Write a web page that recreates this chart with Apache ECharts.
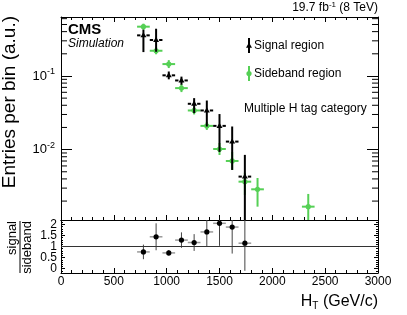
<!DOCTYPE html>
<html><head><meta charset="utf-8">
<script src="https://cdn.jsdelivr.net/npm/echarts@6/dist/echarts.min.js"></script>
<style>html,body{margin:0;padding:0;background:#fff}#c{width:407px;height:315px}</style>
</head><body><div id="c"></div>
<script>
// ---- data ----
const binHalf = 60;
const signalX = [780, 900, 1020, 1140, 1260, 1380, 1500, 1620, 1740];
const signal   = [0.356, 0.308, 0.102, 0.0869, 0.0419, 0.0340, 0.0210, 0.01285, 0.00430];
const signalLo = [0.211, 0.213, 0.090, 0.076, 0.0313, 0.0206, 0.0093, 0.0053, 0.0005];
const signalHi = [0.425, 0.438, 0.115, 0.098, 0.050, 0.0464, 0.0304, 0.0206, 0.00848];
const sidebandX = [780, 900, 1020, 1140, 1260, 1380, 1500, 1620, 1740, 1860, 2340];
const sideband   = [0.467, 0.220, 0.145, 0.0684, 0.0340, 0.0210, 0.0102, 0.00701, 0.00367, 0.00289, 0.00168];
const sidebandLo = [0.425, 0.197, 0.128, 0.0604, 0.030, 0.0185, 0.00845, 0.00529, 0.00242, 0.00168, 0.0009];
const sidebandHi = [0.513, 0.246, 0.164, 0.0775, 0.0385, 0.0238, 0.0123, 0.0093, 0.00486, 0.00412, 0.00250];
const ratioX = [780, 900, 1020, 1140, 1260, 1380, 1500, 1620, 1740];
const ratio    = [0.755, 1.44, 0.71, 1.29, 1.18, 1.66, 2.05, 1.88, 1.15];
const ratioErr = [0.33, 0.61, 0.13, 0.35, 0.38, 0.67, 1.02, 1.2, 1.25];
const ratioRef = 1;
const xRange = [0, 3000];
const yRange = [0.001107, 0.632];
const ratioRange = [-0.2, 2.2];

const FONT = 'Liberation Sans, Arial, Helvetica, sans-serif';
const GREEN = '#55d055';

function rows(xs, ys, lo, hi) { return xs.map((x, i) => [x, ys[i], lo[i], hi[i]]); }

function errItem(kind) {
  return function (params, api) {
    const x = api.value(0), y = api.value(1), lo = api.value(2), hi = api.value(3);
    const c = api.coord([x, y]);
    const l = api.coord([x - binHalf, y]);
    const r = api.coord([x + binHalf, y]);
    const pl = api.coord([x, lo]);
    const ph = api.coord([x, hi]);
    const ch = [];
    if (kind === 'sig') {
      ch.push({type: 'line', shape: {x1: c[0], y1: pl[1], x2: c[0], y2: ph[1]}, style: {stroke: '#000', lineWidth: 2}});
      ch.push({type: 'line', shape: {x1: l[0], y1: c[1], x2: c[0] - 3, y2: c[1]}, style: {stroke: '#000', lineWidth: 2}});
      ch.push({type: 'line', shape: {x1: c[0] + 3, y1: c[1], x2: r[0], y2: c[1]}, style: {stroke: '#000', lineWidth: 2}});
      ch.push({type: 'polygon', shape: {points: [[c[0], c[1] - 3.2], [c[0] - 3, c[1] + 2], [c[0] + 3, c[1] + 2]]}, style: {fill: '#000'}});
    } else if (kind === 'sb') {
      ch.push({type: 'line', shape: {x1: c[0], y1: pl[1], x2: c[0], y2: ph[1]}, style: {stroke: GREEN, lineWidth: 2}});
      ch.push({type: 'line', shape: {x1: l[0], y1: c[1], x2: r[0], y2: c[1]}, style: {stroke: GREEN, lineWidth: 2}});
      ch.push({type: 'circle', shape: {cx: c[0], cy: c[1], r: 2.6}, style: {fill: GREEN}});
    } else {
      ch.push({type: 'line', shape: {x1: c[0], y1: pl[1], x2: c[0], y2: ph[1]}, style: {stroke: '#444', lineWidth: 1}});
      ch.push({type: 'line', shape: {x1: l[0], y1: c[1], x2: r[0], y2: c[1]}, style: {stroke: '#999', lineWidth: 1.5}});
      ch.push({type: 'circle', shape: {cx: c[0], cy: c[1], r: 2.6}, style: {fill: '#000'}});
    }
    return {type: 'group', children: ch};
  };
}

// minor ticks for log axis (2..9 x 10^k)
const logMinor = [];
for (let k = -4; k <= 0; k++) for (let m = 2; m <= 9; m++) {
  const v = m * Math.pow(10, k);
  if (v > yRange[0] && v < yRange[1]) logMinor.push([xRange[0], v]);
}

const baseTick = {lineStyle: {color: '#000', width: 1}};
function xAx(grid, pos, labels, major, minor) {
  return {
    type: 'value', gridIndex: grid, position: pos, min: xRange[0], max: xRange[1], interval: 500,
    axisLine: {show: true, onZero: false, lineStyle: {color: '#000', width: 1}},
    axisTick: Object.assign({show: true, inside: true, length: major}, baseTick),
    minorTick: {show: true, splitNumber: 5, length: minor, lineStyle: {color: '#000', width: 1}},
    splitLine: {show: false},
    axisLabel: {show: labels, margin: 3, fontSize: 12, fontFamily: FONT, color: '#000', formatter: v => String(v)}
  };
}

const option = {
  animation: false,
  backgroundColor: '#fff',
  grid: [
    {left: 61, top: 17, width: 317, height: 203},
    {left: 61, top: 220, width: 317, height: 53}
  ],
  xAxis: [
    xAx(0, 'bottom', false, 5, 3),
    xAx(0, 'top', false, 5, 3),
    xAx(1, 'bottom', true, 5, 3),
    Object.assign(xAx(1, 'top', false, 0, 0), {axisTick: {show: false}, minorTick: {show: false}})
  ],
  yAxis: [
    {
      type: 'log', logBase: 10, gridIndex: 0, position: 'left', min: yRange[0], max: yRange[1],
      axisLine: {show: true, onZero: false, lineStyle: {color: '#000', width: 1}},
      axisTick: {show: true, inside: true, length: 11, lineStyle: {color: '#000'}},
      splitLine: {show: false},
      axisLabel: {
        show: true, margin: 6, showMinLabel: false, showMaxLabel: false, color: '#000', fontFamily: FONT,
        formatter: v => '{b|10}{s|' + Math.round(Math.log10(v)) + '}',
        rich: {b: {fontSize: 13, fontFamily: FONT, color: '#000'}, s: {fontSize: 9, fontFamily: FONT, color: '#000', verticalAlign: 'bottom', padding: [0, 0, 9, 0]}}
      }
    },
    {
      type: 'log', logBase: 10, gridIndex: 0, position: 'right', min: yRange[0], max: yRange[1],
      axisLine: {show: true, onZero: false, lineStyle: {color: '#000', width: 1}},
      axisTick: {show: true, inside: true, length: 11, lineStyle: {color: '#000'}},
      splitLine: {show: false}, axisLabel: {show: false}
    },
    {
      type: 'value', gridIndex: 1, position: 'left', min: ratioRange[0], max: ratioRange[1], splitNumber: 5,
      axisLine: {show: true, onZero: false, lineStyle: {color: '#000', width: 1}},
      axisTick: {show: true, inside: true, length: 4, lineStyle: {color: '#000'}},
      minorTick: {show: true, splitNumber: 5, length: 2, lineStyle: {color: '#000'}},
      splitLine: {show: false},
      axisLabel: {show: true, margin: 4, showMinLabel: false, showMaxLabel: false, fontSize: 12, fontFamily: FONT, color: '#000', formatter: v => String(v)}
    },
    {
      type: 'value', gridIndex: 1, position: 'right', min: ratioRange[0], max: ratioRange[1], splitNumber: 5,
      axisLine: {show: true, onZero: false, lineStyle: {color: '#000', width: 1}},
      axisTick: {show: true, inside: true, length: 4, lineStyle: {color: '#000'}},
      minorTick: {show: true, splitNumber: 5, length: 2, lineStyle: {color: '#000'}},
      splitLine: {show: false}, axisLabel: {show: false}
    }
  ],
  series: [
    {
      type: 'custom', xAxisIndex: 0, yAxisIndex: 0, silent: true, clip: false,
      data: logMinor,
      renderItem: function (params, api) {
        const v = api.value(1);
        const p = api.coord([xRange[0], v]);
        const q = api.coord([xRange[1], v]);
        return {type: 'group', children: [
          {type: 'line', shape: {x1: p[0], y1: p[1], x2: p[0] + 6, y2: p[1]}, style: {stroke: '#000', lineWidth: 1}},
          {type: 'line', shape: {x1: q[0], y1: q[1], x2: q[0] - 6, y2: q[1]}, style: {stroke: '#000', lineWidth: 1}}
        ]};
      }
    },
    {
      type: 'custom', name: 'Sideband region', xAxisIndex: 0, yAxisIndex: 0, clip: true, silent: true,
      dimensions: ['x', 'y', 'lo', 'hi'], encode: {x: 0, y: 1},
      data: rows(sidebandX, sideband, sidebandLo, sidebandHi), renderItem: errItem('sb')
    },
    {
      type: 'custom', name: 'Signal region', xAxisIndex: 0, yAxisIndex: 0, clip: true, silent: true,
      dimensions: ['x', 'y', 'lo', 'hi'], encode: {x: 0, y: 1},
      data: rows(signalX, signal, signalLo, signalHi), renderItem: errItem('sig')
    },
    {
      type: 'line', xAxisIndex: 2, yAxisIndex: 2, silent: true, showSymbol: false,
      data: [[xRange[0], ratioRef], [xRange[1], ratioRef]],
      lineStyle: {color: '#333', width: 1}
    },
    {
      type: 'custom', xAxisIndex: 2, yAxisIndex: 2, clip: true, silent: true,
      dimensions: ['x', 'y', 'lo', 'hi'], encode: {x: 0, y: 1},
      data: ratioX.map((x, i) => [x, ratio[i], ratio[i] - ratioErr[i], ratio[i] + ratioErr[i]]),
      renderItem: errItem('ratio')
    }
  ],
  graphic: [
    {type: 'text', x: 378, y: 15, style: {text: '{a|19.7 fb}{s|-1}{a| (8 TeV)}', align: 'right', verticalAlign: 'bottom',
      rich: {a: {fontSize: 12, fontFamily: FONT, fill: '#000'}, s: {fontSize: 8, fontFamily: FONT, fill: '#000', verticalAlign: 'bottom', padding: [0, 0, 6, 0]}}}},
    {type: 'text', x: 68, y: 30, style: {text: 'CMS', fontSize: 15, fontWeight: 'bold', fontFamily: FONT, fill: '#000', align: 'left', verticalAlign: 'middle'}},
    {type: 'text', x: 68, y: 44, style: {text: 'Simulation', fontSize: 12, fontStyle: 'italic', fontFamily: FONT, fill: '#000', align: 'left', verticalAlign: 'middle'}},
    {type: 'line', shape: {x1: 249, y1: 38, x2: 249, y2: 53}, style: {stroke: '#000', lineWidth: 2}},
    {type: 'polygon', shape: {points: [[249, 42.5], [246, 47.7], [252, 47.7]]}, style: {fill: '#000'}},
    {type: 'text', x: 254, y: 46, style: {text: 'Signal region', fontSize: 12, fontFamily: FONT, fill: '#000', align: 'left', verticalAlign: 'middle'}},
    {type: 'line', shape: {x1: 249, y1: 66, x2: 249, y2: 81}, style: {stroke: GREEN, lineWidth: 2}},
    {type: 'circle', shape: {cx: 249, cy: 73.5, r: 2.6}, style: {fill: GREEN}},
    {type: 'text', x: 254, y: 73.5, style: {text: 'Sideband region', fontSize: 12, fontFamily: FONT, fill: '#000', align: 'left', verticalAlign: 'middle'}},
    {type: 'text', x: 244, y: 109, style: {text: 'Multiple H tag category', fontSize: 12, fontFamily: FONT, fill: '#000', align: 'left', verticalAlign: 'middle'}},
    {type: 'text', x: 10, y: 16, rotation: Math.PI / 2, style: {text: 'Entries per bin (a.u.)', fontSize: 19, fontFamily: FONT, fill: '#000', align: 'right', verticalAlign: 'middle'}},
    {type: 'group', x: 20, y: 221, rotation: Math.PI / 2, children: [
      {type: 'text', x: 0, y: -1, style: {text: 'signal', fontSize: 13, fontFamily: FONT, fill: '#000', align: 'right', verticalAlign: 'bottom'}},
      {type: 'line', shape: {x1: -52, y1: 0, x2: 0, y2: 0}, style: {stroke: '#000', lineWidth: 1}},
      {type: 'text', x: 0, y: 1, style: {text: 'sideband', fontSize: 13, fontFamily: FONT, fill: '#000', align: 'right', verticalAlign: 'top'}}
    ]},
    {type: 'text', x: 378, y: 302, style: {text: '{a|H}{t|T}{a| (GeV/c)}', align: 'right', verticalAlign: 'middle',
      rich: {a: {fontSize: 16, fontFamily: FONT, fill: '#000'}, t: {fontSize: 10, fontFamily: FONT, fill: '#000', verticalAlign: 'top', padding: [8, 0, 0, 0]}}}}
  ]
};
const chart = echarts.init(document.getElementById('c'), null, {renderer: 'canvas'});
chart.setOption(option);
</script>
</body></html>
